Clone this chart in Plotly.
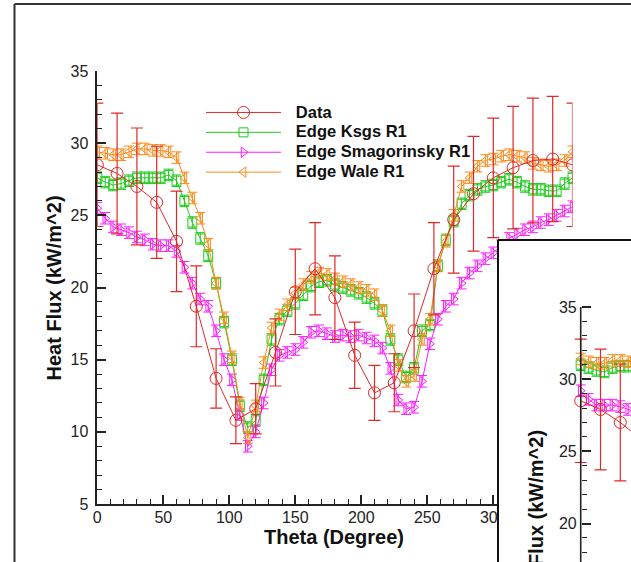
import plotly.graph_objects as go

# ---------------- data ----------------
theta_data = [0, 15, 30, 45, 60, 75, 90, 105, 120, 135, 150, 165, 180,
              195, 210, 225, 240, 255, 270, 285, 300, 315, 330, 345, 360]
heat_data = [28.5, 27.9, 27.0, 25.9, 23.2, 18.7, 13.7, 10.8, 11.6, 15.5, 19.7, 21.3, 19.3,
             15.3, 12.7, 13.4, 17.0, 21.3, 24.7, 26.5, 27.6, 28.3, 28.8, 28.9, 28.5]
data_err_pct = 15

theta_sim = [0, 6, 12, 18, 24, 30, 36, 42, 48, 54, 60, 66, 72, 78, 84, 90, 96, 102, 108, 114,
             120, 126, 132, 138, 144, 150, 156, 162, 168, 174, 180, 186, 192, 198, 204, 210,
             216, 222, 228, 234, 240, 246, 252, 258, 264, 270, 276, 282, 288, 294, 300, 306,
             312, 318, 324, 330, 336, 342, 348, 354, 360]
ksgs_r1 = [27.6, 27.3, 27.1, 27.2, 27.4, 27.6, 27.6, 27.6, 27.6, 27.8, 27.4, 26.0, 24.5, 23.4,
           22.2, 20.3, 17.6, 15.0, 11.8, 10.3, 10.8, 13.6, 16.4, 17.8, 18.4, 18.9, 19.5, 20.1,
           20.4, 20.5, 20.2, 20.0, 19.8, 19.6, 19.3, 18.9, 18.4, 16.4, 15.0, 13.8, 14.4, 17.0,
           17.4, 21.5, 23.3, 24.6, 25.8, 26.4, 26.8, 27.0, 27.1, 27.3, 27.5, 27.3, 27.0, 26.8,
           26.8, 26.7, 26.7, 27.2, 27.6]
smag_r1 = [25.5, 24.8, 24.2, 24.0, 23.8, 23.5, 23.3, 23.0, 22.9, 22.9, 22.5, 21.4, 20.3, 19.2,
           18.7, 17.0, 15.0, 13.6, 11.2, 9.0, 10.0, 12.0, 14.3, 15.3, 15.5, 15.7, 16.2, 16.9,
           17.0, 16.8, 16.6, 16.7, 16.6, 16.7, 16.5, 16.3, 15.8, 14.4, 12.2, 11.6, 11.7, 13.5,
           16.1, 17.8, 18.7, 19.2, 20.3, 21.0, 21.5, 22.0, 22.4, 22.9, 23.4, 23.7, 24.0, 24.2,
           24.5, 24.7, 25.0, 25.3, 25.6]
wale_r1 = [29.4, 29.3, 29.2, 29.2, 29.4, 29.6, 29.6, 29.5, 29.5, 29.4, 29.0, 27.6, 26.2, 24.8,
           23.0, 20.3, 17.9, 15.2, 12.0, 9.6, 11.8, 14.8, 17.2, 18.1, 18.8, 19.6, 20.2, 20.7,
           21.0, 20.9, 20.6, 20.4, 20.2, 20.0, 19.8, 19.5, 18.4, 17.0, 14.6, 13.5, 13.9, 16.4,
           17.8, 21.5, 23.2, 25.0, 27.0, 27.6, 28.4, 28.8, 28.9, 29.1, 29.2, 29.1, 29.0, 28.6,
           28.5, 28.4, 28.5, 28.8, 29.4]
sim_err = 0.4

# second (overlapping) panel, only its upper-left corner is visible
theta_inset = [0, 6, 12, 18, 24, 30, 36, 42]
inset_ksgs = [31.0, 30.8, 30.6, 30.5, 30.8, 30.9, 30.9, 30.8]
inset_smag = [29.2, 28.6, 28.2, 28.2, 28.2, 28.1, 27.9, 27.8]
inset_wale = [31.4, 31.2, 31.1, 31.1, 31.3, 31.3, 31.2, 31.2]

x_ticks = [0, 50, 100, 150, 200, 250, 300, 350]
x_ticktext = ["0", "50", "100", "150", "200", "250", "300", ""]
y_ticks = [5, 10, 15, 20, 25, 30, 35]
inset_y_ticks = [20, 25, 30, 35]
inset_y_minor = [18, 19, 21, 22, 23, 24, 26, 27, 28, 29, 31, 32, 33, 34]

names = ["Data", "Edge Ksgs R1", "Edge Smagorinsky R1", "Edge Wale R1"]

# ---------------- styling ----------------
W, H = 631, 562
RED, GREEN, MAGENTA, ORANGE = "#E02828", "#1ECC1E", "#FF1EFF", "#FF8A1A"
FONT = "Liberation Sans"
AX = "#222222"

def fx(px):
    return px / W

def fy(py):
    return 1 - py / H

def legname(s):
    return '\u00a0\u00a0\u2009<span style="font-size:16.5px">' + s + '</span>'

fig = go.Figure()

sims = [(ksgs_r1, inset_ksgs, GREEN, "square-open", names[1]),
        (smag_r1, inset_smag, MAGENTA, "triangle-right-open", names[2]),
        (wale_r1, inset_wale, ORANGE, "triangle-left-open", names[3])]

rank = 2
for vals, ivals, col, sym, nm in sims:
    fig.add_trace(go.Scatter(
        x=theta_sim, y=vals, name=legname(nm), mode="lines+markers",
        line=dict(color=col, width=1),
        marker=dict(symbol=sym, size=9, color=col, line=dict(color=col, width=1)),
        error_y=dict(type="constant", value=sim_err, color=col, thickness=1, width=5),
        legendrank=rank, xaxis="x", yaxis="y"))
    rank += 1

fig.add_trace(go.Scatter(
    x=theta_data, y=heat_data, name=legname(names[0]), mode="lines+markers",
    line=dict(color=RED, width=1),
    marker=dict(symbol="circle-open", size=12, color=RED, line=dict(color=RED, width=1)),
    error_y=dict(type="percent", value=data_err_pct, color=RED, thickness=1.2, width=6),
    legendrank=1, xaxis="x", yaxis="y"))

# inset traces
for vals, ivals, col, sym, nm in sims:
    fig.add_trace(go.Scatter(
        x=theta_inset, y=ivals, name=nm, mode="lines+markers", showlegend=False,
        line=dict(color=col, width=1),
        marker=dict(symbol=sym, size=9, color=col, line=dict(color=col, width=1)),
        error_y=dict(type="constant", value=sim_err, color=col, thickness=1, width=5),
        xaxis="x2", yaxis="y2"))
fig.add_trace(go.Scatter(
    x=theta_data, y=heat_data, name=names[0], mode="lines+markers", showlegend=False,
    line=dict(color=RED, width=1),
    marker=dict(symbol="circle-open", size=12, color=RED, line=dict(color=RED, width=1)),
    error_y=dict(type="percent", value=data_err_pct, color=RED, thickness=1.2, width=6),
    xaxis="x2", yaxis="y2"))

ppu = (504 - 71) / 30.0      # pixels per heat-flux unit
ppd = (572.5 - 97.3) / 360.0  # pixels per degree
ix0, iy35 = 580.7, 307.0
inset_xrange = [-(ix0 - 498) / ppd, (W - ix0) / ppd]
inset_yrange = [35 - (H - iy35) / ppu, 35 + (iy35 - 240) / ppu]

tickfont = dict(family=FONT, size=16, color=AX)

fig.update_layout(
    width=W, height=H, margin=dict(l=0, r=0, t=0, b=0, autoexpand=False),
    paper_bgcolor="white", plot_bgcolor="white",
    showlegend=True,
    legend=dict(x=fx(201), y=fy(97.5), xanchor="left", yanchor="top",
                bgcolor="rgba(0,0,0,0)", itemwidth=75, tracegroupgap=0,
                font=dict(family=FONT, size=13, color="#111", weight="bold"),
                traceorder="normal"),
    xaxis=dict(domain=[fx(97.3), fx(572.5)], range=[0, 360], anchor="y",
               automargin=False,
               tickmode="array", tickvals=x_ticks, ticktext=x_ticktext,
               ticks="inside", ticklen=9, ticklabelstandoff=-2,
               tickwidth=1.5, tickcolor=AX, showline=True, linewidth=1.6,
               linecolor=AX, showgrid=False, zeroline=False, tickfont=tickfont,
               minor=dict(dtick=10, tick0=0, ticks="inside", ticklen=5,
                          tickwidth=1.2, tickcolor=AX, showgrid=False)),
    yaxis=dict(domain=[fy(504), fy(71)], range=[5, 35], anchor="x",
               automargin=False,
               tickmode="array", tickvals=y_ticks, ticks="inside", ticklen=9,
               tickwidth=1.5, tickcolor=AX, showline=True, linewidth=1.6,
               linecolor=AX, showgrid=False, zeroline=False, tickfont=tickfont,
               ticklabelstandoff=4,
               minor=dict(dtick=1, tick0=0, ticks="inside", ticklen=5,
                          tickwidth=1.2, tickcolor=AX, showgrid=False)),
    xaxis2=dict(domain=[fx(498), 1], range=inset_xrange, anchor="y2",
                automargin=False,
                visible=False, showgrid=False, zeroline=False),
    yaxis2=dict(domain=[0, fy(240)], range=inset_yrange, anchor="free",
                automargin=False,
                position=fx(ix0), side="left",
                tickmode="array", tickvals=inset_y_ticks, ticks="inside", ticklen=9,
                tickwidth=1.5, tickcolor=AX, showline=False,
                showgrid=False, zeroline=False, tickfont=tickfont,
                ticklabelstandoff=4,
                minor=dict(tickmode="array", tickvals=inset_y_minor, ticks="inside",
                           ticklen=5, tickwidth=1.2, tickcolor=AX, showgrid=False)),
)

shapes = [
    # outer frame
    dict(type="line", xref="paper", yref="paper", x0=fx(14.5), x1=fx(14.5), y0=fy(4), y1=0,
         line=dict(color="#333", width=2), layer="above"),
    dict(type="line", xref="paper", yref="paper", x0=fx(14.5), x1=1, y0=fy(4), y1=fy(4),
         line=dict(color="#333", width=2), layer="above"),
    # inset border
    dict(type="line", xref="paper", yref="paper", x0=fx(498), x1=fx(498), y0=fy(240), y1=0,
         line=dict(color="#111", width=2), layer="above"),
    dict(type="line", xref="paper", yref="paper", x0=fx(498), x1=1, y0=fy(240), y1=fy(240),
         line=dict(color="#111", width=2), layer="above"),
    # inset y-axis line
    dict(type="line", xref="x2", yref="y2", x0=0, x1=0, y0=inset_yrange[0], y1=35,
         line=dict(color=AX, width=1.6), layer="above"),
]
fig.update_layout(shapes=shapes)

titlefont = dict(family=FONT, size=20, color="#111")
fig.add_annotation(text="<b>Heat Flux (kW/m^2)</b>", xref="paper", yref="paper",
                   x=fx(53.5), y=fy(288), xanchor="center", yanchor="middle",
                   textangle=-90, showarrow=False, font=titlefont)
fig.add_annotation(text="<b>Theta (Degree)</b>", xref="paper", yref="paper",
                   x=fx(334), y=fy(537), xanchor="center", yanchor="middle",
                   showarrow=False, font=titlefont)
fig.add_annotation(text="<b>Heat Flux (kW/m^2)</b>", xref="paper", yref="paper",
                   x=fx(536), y=fy(523), xanchor="center", yanchor="middle",
                   textangle=-90, showarrow=False, font=titlefont)

fig.write_html("out.html",
               post_script="document.body.style.margin='0';"
                           "document.body.style.padding='0';"
                           "document.body.style.overflow='hidden';")
